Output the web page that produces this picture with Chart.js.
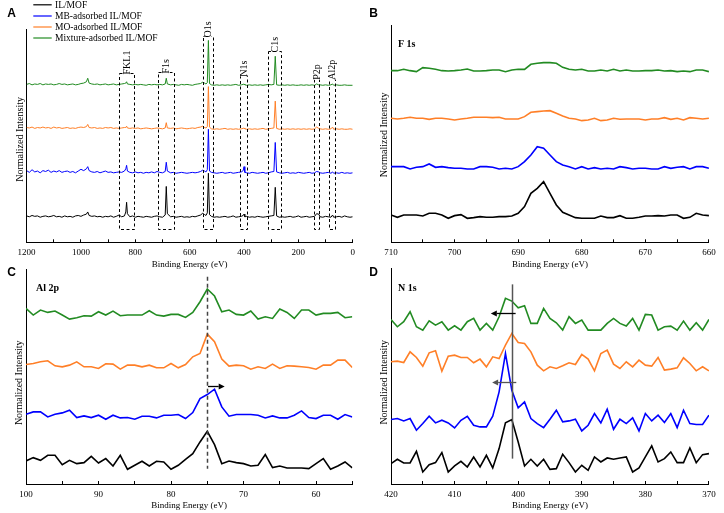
<!DOCTYPE html>
<html><head><meta charset="utf-8">
<script src="https://cdn.jsdelivr.net/npm/chart.js@4/dist/chart.umd.min.js"></script>
<style>
html,body{margin:0;padding:0;background:#fff;}
#wrap{position:relative;width:724px;height:513px;overflow:hidden;background:#fff;}
canvas{position:absolute;left:0;top:0;width:724px;height:513px;}
</style></head><body>
<div id="wrap">
<canvas id="cA" width="724" height="513"></canvas>
<canvas id="cB" width="724" height="513"></canvas>
<canvas id="cC" width="724" height="513"></canvas>
<canvas id="cD" width="724" height="513"></canvas>
</div>
<script>
const SERIF = '"Liberation Serif", "Times New Roman", serif';
const SANS = '"Liberation Sans", Arial, sans-serif';

const seriesNames = ['IL/MOF','MB-adsorbed IL/MOF','MO-adsorbed IL/MOF','Mixture-adsorbed IL/MOF'];
const seriesColors = ['#000000','#0000ff','#ff7f27','#228b22'];

// ---------- Panel A : survey ----------
const surveyEnergy = [1200,1190,1180,1170,1160,1150,1140,1130,1120,1110,1100,1090,1080,1070,1060,1050,1040,1030,1020,1010,1000,990,
  980,975,970,
  960,950,940,930,920,910,900,890,880,870,860,850,840,
  835,832,829,
  820,810,800,790,780,770,760,750,740,730,720,710,700,690,
  686,682,
  670,660,650,640,630,620,610,600,590,580,570,560,
  552,545,540,535,531,527,
  520,510,500,490,480,470,460,450,440,430,420,410,
  403,400,397,
  390,380,370,360,350,340,330,320,310,300,290,
  285,
  280,270,260,250,240,230,220,210,200,190,180,170,160,150,140,
  133,125,
  120,110,100,90,80,
  74,
  70,60,50,40,30,20,10,0];
const surveyIL = [0.03,0.01,0.04,0.02,0.03,0.00,0.02,0.03,0.01,0.02,0.04,0.01,0.02,0.00,0.03,0.01,0.02,0.00,0.03,0.04,0.02,0.05,
  0.07,0.12,0.04,
  0.02,0.03,0.01,0.02,0.00,0.02,0.01,0.03,0.00,0.02,0.05,0.01,0.03,
  0.12,0.34,0.08,
  0.01,0.03,0.00,0.02,0.01,0.00,0.02,0.01,0.00,0.02,0.03,0.01,0.00,0.05,
  0.70,0.08,
  0.01,0.02,0.00,0.01,0.02,0.00,0.01,0.00,0.02,0.01,0.03,0.05,
  0.09,0.06,0.04,0.10,1.00,0.06,
  0.02,0.00,0.01,0.00,0.01,0.02,0.00,0.01,0.03,0.00,0.01,0.02,
  0.04,0.07,0.01,
  0.02,0.00,0.01,0.00,0.02,0.01,0.00,0.01,0.02,0.03,0.04,
  0.68,
  0.03,0.00,0.01,0.00,0.01,0.02,0.00,0.01,0.03,0.00,0.01,0.02,0.00,0.01,0.02,
  0.08,0.07,
  0.01,0.00,0.02,0.01,0.00,
  0.05,
  0.00,0.01,0.02,0.00,0.03,0.01,0.00,0.01];
const surveyMB = [0.06,0.02,0.08,0.03,0.05,0.01,0.06,0.04,0.07,0.02,0.05,0.03,0.06,0.02,0.04,0.05,0.02,0.04,0.01,0.05,0.09,0.06,
  0.10,0.15,0.06,
  0.03,0.02,0.04,0.01,0.03,0.05,0.02,0.03,0.01,0.02,0.03,0.02,0.05,
  0.10,0.18,0.05,
  0.02,0.01,0.03,0.01,0.02,0.00,0.02,0.01,0.03,0.01,0.04,0.02,0.01,0.04,
  0.25,0.05,
  0.01,0.02,0.00,0.01,0.02,0.01,0.00,0.01,0.02,0.01,0.02,0.04,
  0.07,0.05,0.03,0.08,1.00,0.05,
  0.02,0.01,0.00,0.01,0.02,0.00,0.01,0.02,0.00,0.01,0.02,0.03,
  0.06,0.15,0.02,
  0.01,0.00,0.02,0.01,0.00,0.01,0.02,0.00,0.01,0.03,0.04,
  0.70,
  0.03,0.01,0.00,0.01,0.02,0.00,0.01,0.00,0.02,0.01,0.00,0.01,0.02,0.00,0.01,
  0.04,0.03,
  0.01,0.00,0.01,0.02,0.00,
  0.03,
  0.00,0.01,0.00,0.02,0.00,0.01,0.00,0.01];
const surveyMO = [0.04,0.03,0.05,0.02,0.04,0.03,0.05,0.03,0.04,0.02,0.05,0.03,0.04,0.02,0.03,0.04,0.02,0.03,0.02,0.04,0.05,0.04,
  0.06,0.11,0.04,
  0.03,0.04,0.02,0.03,0.02,0.04,0.03,0.04,0.02,0.03,0.02,0.03,0.04,
  0.04,0.07,0.03,
  0.02,0.03,0.02,0.03,0.01,0.02,0.03,0.02,0.01,0.02,0.03,0.02,0.01,0.03,
  0.15,0.03,
  0.02,0.03,0.01,0.02,0.03,0.02,0.01,0.02,0.03,0.02,0.04,0.05,
  0.07,0.04,0.03,0.06,0.97,0.05,
  0.01,0.00,0.01,0.00,0.01,0.02,0.00,0.01,0.00,0.01,0.00,0.01,
  0.02,0.03,0.01,
  0.00,0.01,0.00,0.01,0.00,0.01,0.02,0.00,0.01,0.02,0.03,
  0.64,
  0.02,0.00,0.01,0.00,0.01,0.00,0.01,0.00,0.01,0.00,0.01,0.00,0.01,0.00,0.01,
  0.05,0.02,
  0.01,0.00,0.01,0.00,0.01,
  0.05,
  0.00,0.01,0.00,0.01,0.00,0.00,0.01,0.00];
const surveyMix = [0.02,0.04,0.01,0.03,0.02,0.04,0.01,0.03,0.02,0.03,0.01,0.02,0.04,0.02,0.03,0.01,0.02,0.03,0.01,0.02,0.04,0.05,
  0.08,0.16,0.05,
  0.03,0.02,0.03,0.01,0.02,0.03,0.01,0.02,0.03,0.01,0.02,0.03,0.04,
  0.05,0.08,0.03,
  0.02,0.01,0.02,0.01,0.02,0.01,0.00,0.02,0.01,0.02,0.01,0.02,0.01,0.03,
  0.16,0.03,
  0.01,0.02,0.01,0.00,0.02,0.01,0.02,0.01,0.00,0.02,0.03,0.04,
  0.07,0.05,0.03,0.06,1.02,0.04,
  0.01,0.00,0.01,0.00,0.01,0.00,0.01,0.00,0.01,0.02,0.00,0.01,
  0.02,0.03,0.01,
  0.00,0.01,0.00,0.01,0.00,0.01,0.00,0.01,0.02,0.01,0.02,
  0.66,
  0.01,0.00,0.01,0.00,0.01,0.00,0.01,0.00,0.00,0.01,0.00,0.01,0.00,0.01,0.00,
  0.03,0.01,
  0.01,0.00,0.01,0.00,0.01,
  0.03,
  0.00,0.01,0.00,0.00,0.01,0.00,0.00,0.00];
const surveyOffsets = [0,1,2,3];
const peakLabels = ['FKL1','F1s','O1s','N1s','C1s','P2p','Al2p'];
const peakFrom   = [860,716,551,413,311,142,86];
const peakTo     = [805,657,513,388,265,123,65];
const peakBoxTop = [3.28,3.30,4.12,3.23,3.78,3.16,3.16];
const peakBoxBottom = -0.27;

// ---------- Panel B : F 1s ----------
const f1sEnergy = [710,709,708,707,706,705,704,703,702,701,700,699,698,697,696,695,694,693,692,691,690,689,688,687,686,685,684,683,682,681,680,679,678,677,676,675,674,673,672,671,670,669,668,667,666,665,664,663,662,661,660];
const f1sIL  = [82,75,82,82,82,79,87,87,82,72, 80,83,72,74,77,75,75,77,77,79, 87,107,147,162,182,147,112,90,82,74, 72,72,72,79,74,74,80,72,72,75, 79,79,80,79,82,82,72,75,87,82, 80];
const f1sMB  = [227,227,227,220,225,227,235,225,227,224, 222,222,220,220,227,227,225,220,222,220, 227,242,262,287,282,262,242,232,227,220, 227,220,224,220,222,220,227,224,220,222, 222,220,220,227,222,225,227,220,227,227, 222];
const f1sMO  = [372,370,372,375,372,372,369,372,372,370, 367,370,372,375,375,375,374,375,370,370, 370,377,390,392,394,395,387,379,372,370, 365,367,372,365,367,372,369,370,370,370, 367,370,370,374,369,372,367,374,372,370, 372];
const f1sMix = [515,515,519,515,512,524,522,519,515,514, 515,517,520,514,514,515,517,517,512,517, 519,519,534,537,539,539,537,525,519,517, 519,514,514,517,514,519,514,517,514,514, 515,515,517,514,515,512,514,512,517,517, 512];

// ---------- Panel C : Al 2p ----------
const al2pEnergy = [100,99,98,97,96,95,94,93,92,91,90,89,88,87,86,85,84,83,82,81,80,79,78,77,76,75,74,73,72,71,70,69,68,67,66,65,64,63,62,61,60,59,58,57,56,55];
const al2pIL  = [69,79,71,86,86,58,71,61,64,83, 63,76,54,86,44,56,68,54,68,66, 44,56,74,91,126,158,118,61,69,64, 61,54,56,88,49,54,48,48,48,46, 61,76,44,54,66,48];
const al2pMB  = [209,216,216,201,209,213,221,199,204,199, 206,194,206,198,199,194,203,203,198,206, 206,208,196,214,256,268,284,231,203,208, 208,208,206,198,204,198,198,206,219,199, 196,206,206,194,208,201];
const al2pMO  = [358,361,366,369,354,351,356,366,351,351, 346,360,359,344,356,356,351,356,348,348, 361,348,358,381,391,449,426,374,353,356, 354,344,351,346,359,346,354,353,351,349, 344,356,356,371,371,349];
const al2pMix = [526,506,521,514,518,506,494,498,504,503, 516,506,518,504,506,506,506,519,506,503, 508,508,499,514,546,584,563,516,521,508, 506,518,494,501,496,524,514,496,521,521, 506,511,511,514,498,501];
const al2pRef = 75;
const al2pArrows = [{from: 74.9, to: 72.6, y: 294, color: '#000'}];

// ---------- Panel D : N 1s ----------
const n1sEnergy = [420,419,418,417,416,415,414,413,412,411,410,409,408,407,406,405,404,403,402,401,400,399,398,397,396,395,394,393,392,391,390,389,388,387,386,385,384,383,382,381,380,379,378,377,376,375,374,373,372,371,370];
const n1sIL  = [61,74,63,63,98,36,58,64,94,36, 54,68,51,81,51,86,48,106,183,193, 126,54,74,54,74,44,46,89,64,36, 56,41,81,66,78,74,78,81,36,48, 81,114,66,76,96,64,64,108,64,88, 91];
const n1sMB  = [193,196,189,196,161,181,203,183,191,183, 168,191,203,176,171,171,203,276,391,281, 228,246,196,181,169,194,221,186,189,194, 159,176,211,183,224,164,194,181,198,159, 211,189,206,184,211,169,221,181,178,178, 206];
const n1sMO  = [366,368,364,396,379,353,393,399,338,383, 386,379,379,363,374,351,381,376,416,451, 424,421,396,356,339,351,346,354,363,358, 388,374,339,391,401,359,346,366,351,371, 356,353,379,341,344,348,378,361,339,351, 339];
const n1sMix = [493,471,486,516,471,461,489,476,486,461, 474,461,486,496,461,481,461,501,556,548, 528,534,481,481,526,496,483,461,501,481, 491,461,461,461,481,496,481,473,496,461, 508,506,461,471,473,461,488,461,483,461, 493];
const n1sRef = 401;
const n1sArrows = [{from: 400.4, to: 404.3, y: 511, color: '#000'}, {from: 400.3, to: 404.1, y: 306, color: '#555'}];

// ---------- helpers ----------
function makeSets(xs, ysList, offsets, width) {
  return ysList.map((ys, k) => ({
    label: seriesNames[k],
    borderColor: seriesColors[k],
    backgroundColor: seriesColors[k],
    borderWidth: width,
    pointRadius: 0,
    tension: 0,
    fill: false,
    data: xs.map((x, i) => ({x: x, y: ys[i] + (offsets ? offsets[k] : 0)}))
  }));
}
function xScale(min, max, step, labelStep, titlePadTop) {
  return {
    type: 'linear', reverse: true, min: min, max: max,
    ticks: {stepSize: step, autoSkip: false, maxRotation: 0, padding: 8.3, color: '#000',
      font: {family: SERIF, size: 9},
      callback: (v) => (Math.round(v) % labelStep === 0 ? String(Math.round(v)) : '')},
    grid: {display: true, drawOnChartArea: false, drawTicks: true, tickLength: -3, color: '#000', lineWidth: 1},
    border: {display: true, color: '#000', width: 1},
    title: {display: true, text: 'Binding Energy (eV)', color: '#000',
      font: {family: SERIF, size: 9}, padding: {top: titlePadTop, bottom: 0}}
  };
}
function yScale(min, max, text) {
  return {
    type: 'linear', min: min, max: max,
    ticks: {display: false},
    grid: {display: false, drawTicks: false},
    border: {display: true, color: '#000', width: 1},
    title: {display: true, text: text, color: '#000', font: {family: SERIF, size: 10}, padding: {top: 0, bottom: 0.5}}
  };
}
function drawArrow(ctx, x1, x2, y, color) {
  const dir = Math.sign(x2 - x1), hl = 6, hw = 3;
  ctx.strokeStyle = color; ctx.fillStyle = color; ctx.lineWidth = 1.3;
  ctx.beginPath(); ctx.moveTo(x1, y); ctx.lineTo(x2 - dir * hl, y); ctx.stroke();
  ctx.beginPath(); ctx.moveTo(x2, y); ctx.lineTo(x2 - dir * hl, y - hw); ctx.lineTo(x2 - dir * hl, y + hw); ctx.closePath(); ctx.fill();
}
function textPlugin(id, items) {
  return {id: id, afterDraw(chart) {
    const ctx = chart.ctx; ctx.save();
    ctx.textBaseline = 'alphabetic'; ctx.textAlign = 'left'; ctx.fillStyle = '#000';
    items.forEach(t => { ctx.font = t.font; ctx.fillText(t.text, t.x, t.y); });
    ctx.restore();
  }};
}

Chart.defaults.font.family = SERIF;
Chart.defaults.color = '#000';

const baseOpts = (pad) => ({
  responsive: false, animation: false, events: [],
  layout: {padding: pad},
  plugins: {legend: {display: false}, tooltip: {enabled: false}}
});

// ---------- Panel A ----------
const surveyBoxes = {id: 'surveyBoxes', afterDatasetsDraw(chart) {
  const {ctx, scales: {x, y}} = chart;
  ctx.save();
  ctx.strokeStyle = '#000'; ctx.lineWidth = 1; ctx.setLineDash([3, 2.5]);
  peakLabels.forEach((lab, i) => {
    const x1 = Math.round(x.getPixelForValue(peakFrom[i])) + 0.5;
    const x2 = Math.round(x.getPixelForValue(peakTo[i])) + 0.5;
    const yt = Math.round(y.getPixelForValue(peakBoxTop[i])) + 0.5;
    const yb = Math.round(y.getPixelForValue(peakBoxBottom)) + 0.5;
    ctx.strokeRect(x1, yt, x2 - x1, yb - yt);
  });
  ctx.setLineDash([]);
  ctx.font = '10px ' + SERIF; ctx.textBaseline = 'middle'; ctx.textAlign = 'left';
  peakLabels.forEach((lab, i) => {
    const xc = (x.getPixelForValue(peakFrom[i]) + x.getPixelForValue(peakTo[i])) / 2;
    const yt = y.getPixelForValue(peakBoxTop[i]);
    const w = ctx.measureText(lab).width;
    ctx.save(); ctx.translate(xc, yt + 1.5); ctx.rotate(-Math.PI / 2);
    ctx.fillStyle = '#fff'; ctx.fillRect(0, -3.5, w + 1, 7);
    ctx.fillStyle = '#000'; ctx.fillText(lab, 0, 0.5);
    ctx.restore();
  });
  ctx.restore();
}};
const legendA = {id: 'legendA', afterDraw(chart) {
  const ctx = chart.ctx; ctx.save();
  ctx.font = '9.5px ' + SERIF; ctx.textBaseline = 'alphabetic'; ctx.textAlign = 'left';
  const baselines = [7.8, 19, 30, 41];
  seriesNames.forEach((n, k) => {
    ctx.strokeStyle = seriesColors[k]; ctx.lineWidth = 1.2;
    ctx.beginPath(); ctx.moveTo(33.3, baselines[k] - 3); ctx.lineTo(51.7, baselines[k] - 3); ctx.stroke();
    ctx.fillStyle = '#000'; ctx.fillText(n, 55, baselines[k]);
  });
  ctx.restore();
}};
new Chart(document.getElementById('cA'), {
  type: 'line',
  data: {datasets: makeSets(surveyEnergy, [surveyIL, surveyMB, surveyMO, surveyMix], surveyOffsets, 1)},
  options: Object.assign(baseOpts({left: 14.1, top: 29, right: 371.3, bottom: 242.8}), {
    scales: {x: xScale(0, 1200, 100, 200, -7.3), y: yScale(-0.57, 4.28, 'Normalized Intensity   ')}
  }),
  plugins: [surveyBoxes, legendA, textPlugin('lettersA', [{text: 'A', x: 7.3, y: 17.3, font: 'bold 12px ' + SANS}])]
});

// ---------- Panel B ----------
new Chart(document.getElementById('cB'), {
  type: 'line',
  data: {datasets: makeSets(f1sEnergy, [f1sIL, f1sMB, f1sMO, f1sMix], null, 1.6)},
  options: Object.assign(baseOpts({left: 378.5, top: 25, right: 7.7, bottom: 242.8}), {
    scales: {x: xScale(660, 710, 5, 10, -7.3), y: yScale(0, 652, 'Normalized Intensity ')}
  }),
  plugins: [textPlugin('lettersB', [
    {text: 'B', x: 369.3, y: 17.3, font: 'bold 12px ' + SANS},
    {text: 'F 1s', x: 398, y: 47.3, font: 'bold 10px ' + SERIF}])]
});

// ---------- Panel C ----------
const al2pMarks = {id: 'al2pMarks', afterDatasetsDraw(chart) {
  const {ctx, scales: {x, y}} = chart;
  ctx.save();
  const xr = Math.round(x.getPixelForValue(al2pRef)) + 0.5;
  ctx.strokeStyle = '#444'; ctx.lineWidth = 1.5; ctx.setLineDash([4, 3]);
  ctx.beginPath(); ctx.moveTo(xr, y.getPixelForValue(621)); ctx.lineTo(xr, y.getPixelForValue(46)); ctx.stroke();
  ctx.setLineDash([]);
  al2pArrows.forEach(a => drawArrow(ctx, x.getPixelForValue(a.from), x.getPixelForValue(a.to), Math.round(y.getPixelForValue(a.y)) + 0.5, a.color));
  ctx.restore();
}};
new Chart(document.getElementById('cC'), {
  type: 'line',
  data: {datasets: makeSets(al2pEnergy, [al2pIL, al2pMB, al2pMO, al2pMix], null, 1.6)},
  options: Object.assign(baseOpts({left: 13.5, top: 269, right: 371.7, bottom: 2.1}), {
    scales: {x: xScale(55, 100, 5, 10, -8.3), y: yScale(0, 644, 'Normalized Intensity     ')}
  }),
  plugins: [al2pMarks, textPlugin('lettersC', [
    {text: 'C', x: 7.3, y: 275.7, font: 'bold 12px ' + SANS},
    {text: 'Al 2p', x: 36, y: 290.7, font: 'bold 10px ' + SERIF}])]
});

// ---------- Panel D ----------
const n1sMarks = {id: 'n1sMarks', afterDatasetsDraw(chart) {
  const {ctx, scales: {x, y}} = chart;
  ctx.save();
  const xr = Math.round(x.getPixelForValue(n1sRef)) + 0.5;
  ctx.strokeStyle = '#555'; ctx.lineWidth = 1.5;
  ctx.beginPath(); ctx.moveTo(xr, y.getPixelForValue(598)); ctx.lineTo(xr, y.getPixelForValue(76)); ctx.stroke();
  n1sArrows.forEach(a => drawArrow(ctx, x.getPixelForValue(a.from), x.getPixelForValue(a.to), Math.round(y.getPixelForValue(a.y)) + 0.5, a.color));
  ctx.restore();
}};
new Chart(document.getElementById('cD'), {
  type: 'line',
  data: {datasets: makeSets(n1sEnergy, [n1sIL, n1sMB, n1sMO, n1sMix], null, 1.6)},
  options: Object.assign(baseOpts({left: 378.5, top: 268, right: 7.7, bottom: 2.1}), {
    scales: {x: xScale(370, 420, 5, 10, -8.3), y: yScale(0, 647, 'Normalized Intensity     ')}
  }),
  plugins: [n1sMarks, textPlugin('lettersD', [
    {text: 'D', x: 369.3, y: 276, font: 'bold 12px ' + SANS},
    {text: 'N 1s', x: 398, y: 290.5, font: 'bold 10px ' + SERIF}])]
});
</script>
</body></html>
